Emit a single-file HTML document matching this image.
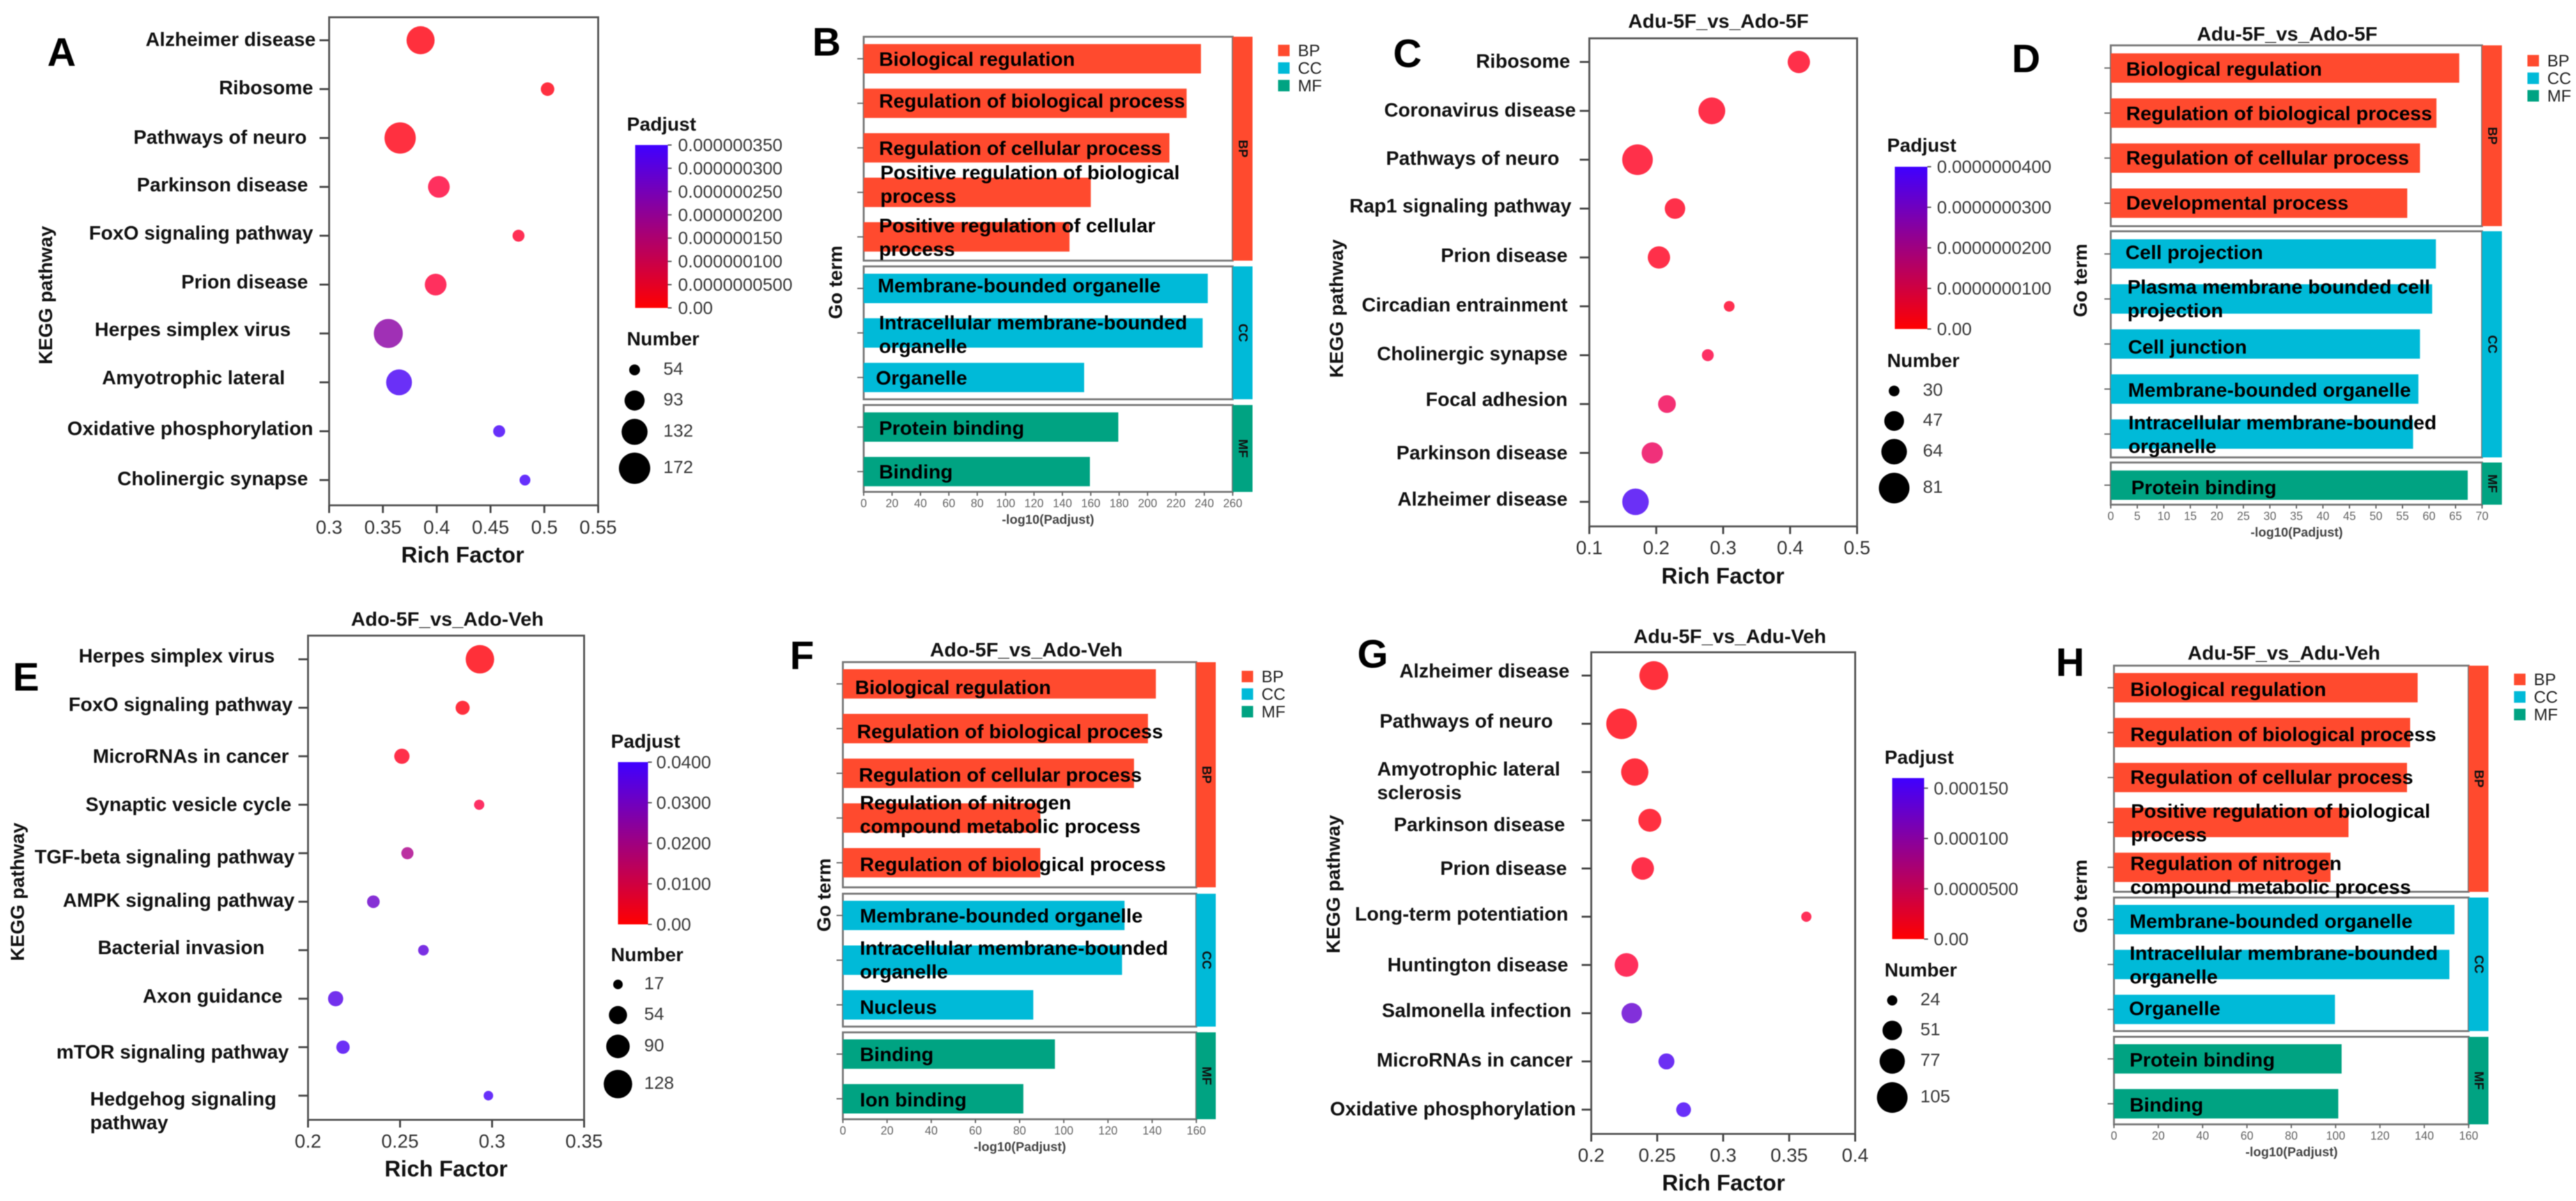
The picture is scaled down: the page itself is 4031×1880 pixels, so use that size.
<!DOCTYPE html>
<html lang="en">
<head>
<meta charset="utf-8">
<title>KEGG and GO enrichment panels</title>
<style>
html,body{margin:0;padding:0;background:#fff;}
#figure{display:block;width:4031px;height:1880px;font-family:"Liberation Sans",Arial,sans-serif;filter:blur(0.9px);}
.letter{font-size:62px;font-weight:700;fill:#000;}
</style>
</head>
<body>
<svg id="figure" xmlns="http://www.w3.org/2000/svg" width="4031" height="1880" viewBox="0 0 4031 1880">
  <defs>
    <linearGradient id="padjGradient" x1="0" y1="1" x2="0" y2="0">
      <stop offset="0" stop-color="#ff0000"/>
      <stop offset="1" stop-color="#3f00ff"/>
    </linearGradient>
  </defs>
  <rect x="0" y="0" width="4031" height="1880" fill="#ffffff"/>
  <text class="letter" x="74" y="103">A</text>
  <text class="letter" x="1271" y="87">B</text>
  <text class="letter" x="2180" y="105">C</text>
  <text class="letter" x="3148" y="113">D</text>
  <text class="letter" x="20" y="1081">E</text>
  <text class="letter" x="1236" y="1047">F</text>
  <text class="letter" x="2124" y="1045">G</text>
  <text class="letter" x="3217" y="1058">H</text>
</svg>
<script>
/* ---------- Panel A data ---------- */
const aCategories = ['Alzheimer disease','Ribosome','Pathways of neuro','Parkinson disease','FoxO signaling pathway','Prion disease','Herpes simplex virus','Amyotrophic lateral','Oxidative phosphorylation','Cholinergic synapse'];
const aRichFactor = [0.385,0.503,0.366,0.402,0.476,0.399,0.355,0.365,0.458,0.482];
const aNumber = [147,61,172,103,56,103,154,131,56,54];
const aPadjust = [1.2e-8,1.5e-8,1.5e-8,5e-8,4e-8,5e-8,2.1e-7,3.35e-7,3.4e-7,3.45e-7];
const aXTicks = [0.3,0.35,0.4,0.45,0.5,0.55];
const aXTickLabels = ['0.3','0.35','0.4','0.45','0.5','0.55'];
const aPadjTicks = [0,5e-8,1e-7,1.5e-7,2e-7,2.5e-7,3e-7,3.5e-7];
const aPadjTickLabels = ['0.00','0.0000000500','0.000000100','0.000000150','0.000000200','0.000000250','0.000000300','0.000000350'];
const aNumberTicks = [54,93,132,172];

/* ---------- Panel C data ---------- */
const cCategories = ['Ribosome','Coronavirus disease','Pathways of neuro','Rap1 signaling pathway','Prion disease','Circadian entrainment','Cholinergic synapse','Focal adhesion','Parkinson disease','Alzheimer disease'];
const cRichFactor = [0.413,0.283,0.172,0.228,0.204,0.309,0.277,0.216,0.194,0.169];
const cNumber = [54,68,81,49,54,30,31,42,51,67];
const cPadjust = [3e-9,3e-9,3e-9,3e-9,3e-9,4e-9,7e-9,1.05e-8,1.2e-8,3.8e-8];
const cXTicks = [0.1,0.2,0.3,0.4,0.5];
const cXTickLabels = ['0.1','0.2','0.3','0.4','0.5'];
const cPadjTicks = [0,1e-8,2e-8,3e-8,4e-8];
const cPadjTickLabels = ['0.00','0.0000000100','0.0000000200','0.0000000300','0.0000000400'];
const cNumberTicks = [30,47,64,81];

/* ---------- Panel E data ---------- */
const eCategories = ['Herpes simplex virus','FoxO signaling pathway','MicroRNAs in cancer','Synaptic vesicle cycle','TGF-beta signaling pathway','AMPK signaling pathway','Bacterial invasion','Axon guidance','mTOR signaling pathway','Hedgehog signaling|pathway'];
const eRichFactor = [0.2934,0.284,0.251,0.293,0.254,0.2355,0.2627,0.215,0.219,0.298];
const eNumber = [128,32,38,18,24,26,19,38,29,17];
const ePadjust = [0.0008,0.0015,0.003,0.007,0.02,0.031,0.034,0.036,0.038,0.039];
const eXTicks = [0.2,0.25,0.3,0.35];
const eXTickLabels = ['0.2','0.25','0.3','0.35'];
const ePadjTicks = [0,0.01,0.02,0.03,0.04];
const ePadjTickLabels = ['0.00','0.0100','0.0200','0.0300','0.0400'];
const eNumberTicks = [17,54,90,128];

/* ---------- Panel G data ---------- */
const gCategories = ['Alzheimer disease','Pathways of neuro','Amyotrophic lateral|sclerosis','Parkinson disease','Prion disease','Long-term potentiation','Huntington disease','Salmonella infection','MicroRNAs in cancer','Oxidative phosphorylation'];
const gRichFactor = [0.2474,0.223,0.233,0.2444,0.239,0.363,0.2267,0.2307,0.257,0.27];
const gNumber = [95,105,87,66,64,24,69,55,38,34];
const gPadjust = [5e-6,5e-6,6e-6,7e-6,1.2e-5,2e-5,2.2e-5,1.28e-4,1.5e-4,1.55e-4];
const gXTicks = [0.2,0.25,0.3,0.35,0.4];
const gXTickLabels = ['0.2','0.25','0.3','0.35','0.4'];
const gPadjTicks = [0,5e-5,1e-4,1.5e-4];
const gPadjTickLabels = ['0.00','0.0000500','0.000100','0.000150'];
const gNumberTicks = [24,51,77,105];

/* ---------- Panel B data ---------- */
const bTerms = ['Biological regulation','Regulation of biological process','Regulation of cellular process','Positive regulation of biological|process','Positive regulation of cellular|process','Membrane-bounded organelle','Intracellular membrane-bounded|organelle','Organelle','Protein binding','Binding'];
const bGroups = ['BP','BP','BP','BP','BP','CC','CC','CC','MF','MF'];
const bValues = [237.6,227.5,215.4,160,145,242.4,238.8,155.3,179.4,159.4];
const bTicks = [0,20,40,60,80,100,120,140,160,180,200,220,240,260];

/* ---------- Panel D data ---------- */
const dTerms = ['Biological regulation','Regulation of biological process','Regulation of cellular process','Developmental process','Cell projection','Plasma membrane bounded cell|projection','Cell junction','Membrane-bounded organelle','Intracellular membrane-bounded|organelle','Protein binding'];
const dGroups = ['BP','BP','BP','BP','CC','CC','CC','CC','CC','MF'];
const dValues = [65.7,61.4,58.3,55.9,61.3,60.6,58.3,58,57,67.3];
const dTicks = [0,5,10,15,20,25,30,35,40,45,50,55,60,65,70];

/* ---------- Panel F data ---------- */
const fTerms = ['Biological regulation','Regulation of biological process','Regulation of cellular process','Regulation of nitrogen|compound metabolic process','Regulation of biological process','Membrane-bounded organelle','Intracellular membrane-bounded|organelle','Nucleus','Binding','Ion binding'];
const fGroups = ['BP','BP','BP','BP','BP','CC','CC','CC','MF','MF'];
const fValues = [141.7,138.1,131.8,89.4,89.4,127.5,126.4,86.2,96,81.7];
const fTicks = [0,20,40,60,80,100,120,140,160];

/* ---------- Panel H data ---------- */
const hTerms = ['Biological regulation','Regulation of biological process','Regulation of cellular process','Positive regulation of biological|process','Regulation of nitrogen|compound metabolic process','Membrane-bounded organelle','Intracellular membrane-bounded|organelle','Organelle','Protein binding','Binding'];
const hGroups = ['BP','BP','BP','BP','BP','CC','CC','CC','MF','MF'];
const hValues = [137,133.6,132.2,105.8,97.7,153.6,151.3,99.7,102.7,101.2];
const hTicks = [0,20,40,60,80,100,120,140,160];

/* ---------- Layout (not data) ---------- */
const groupColors = {BP:'#ff4a2e',CC:'#00bad8',MF:'#00a382'};
const legendKeys = ['BP','CC','MF'];
const svg = document.getElementById('figure');
const SVG_NS = 'http://www.w3.org/2000/svg';

function mk(tag, attrs, parent){
  const node = document.createElementNS(SVG_NS, tag);
  for (const k in attrs) node.setAttribute(k, attrs[k]);
  parent.appendChild(node);
  return node;
}

function putText(parent, str, x, y, size, weight, fill, anchor, rotate){
  const attrs = {x:x, y:y, 'font-size':size, 'font-weight':weight, fill:fill, 'text-anchor':anchor, 'dominant-baseline':'central'};
  if (rotate) attrs.transform = 'rotate(' + rotate + ' ' + x + ' ' + y + ')';
  const node = mk('text', attrs, parent);
  node.textContent = str;
  return node;
}

function slug(str){
  return str.toLowerCase().replace(/\|/g,' ').replace(/[^a-z0-9]+/g,'-').replace(/^-|-$/g,'');
}

/* Colour ramp for the semi-transparent looking dots */
const rampStops = [0,0.15,0.3,0.6,1];
const rampRed = [255,255,240,160,100];
const rampBlue = [51,96,122,181,255];

function padjColor(t){
  let i = 0;
  while (i < rampStops.length - 2 && t > rampStops[i + 1]) i += 1;
  const f = (t - rampStops[i]) / (rampStops[i + 1] - rampStops[i]);
  const r = Math.round(rampRed[i] + (rampRed[i + 1] - rampRed[i]) * f);
  const b = Math.round(rampBlue[i] + (rampBlue[i + 1] - rampBlue[i]) * f);
  return 'rgb(' + r + ',48,' + b + ')';
}

function drawDotPanel(p){
  const L = p.layout;
  const g = mk('g', {}, svg);
  
  

  const xMin = p.xTicks[0];
  const xMax = p.xTicks[p.xTicks.length - 1];
  const xScale = v => L.x0 + (v - xMin) / (xMax - xMin) * (L.x1 - L.x0);
  const yScale = i => L.catFirst + i * L.catStep;
  const nMin = p.numberTicks[0];
  const nMax = p.numberTicks[p.numberTicks.length - 1];
  const rScale = n => {
    const t = Math.max(0, (n - nMin) / (nMax - nMin));
    return L.r0 + (L.r1 - L.r0) * Math.pow(t, 0.72);
  };
  const padjMax = p.padjMax;

  const frame = mk('rect', {x:L.x0, y:L.y0, width:L.x1 - L.x0, height:L.y1 - L.y0, fill:'none', stroke:'#555', 'stroke-width':3}, g);
  
  

  p.xTicks.forEach((v, i) => {
    const tick = mk('line', {x1:xScale(v), x2:xScale(v), y1:L.y1, y2:L.y1 + 12, stroke:'#444', 'stroke-width':3}, g);
    
    
    const label = putText(g, p.xTickLabels[i], xScale(v), L.xTickY, 30, 400, '#333', 'middle');
    
    
  });

  p.categories.forEach((name, i) => {
    const cy = yScale(i);
    const tick = mk('line', {x1:L.x0 - 15, x2:L.x0, y1:cy, y2:cy, stroke:'#444', 'stroke-width':3}, g);
    
    

    const lines = name.split('|');
    const wrapped = lines.length > 1;
    const lx = L.x0 - L.labelGap[i];
    const label = mk('text', {'font-size':30.5, 'font-weight':700, fill:'#111', 'text-anchor':wrapped ? 'start' : 'end', 'dominant-baseline':'central'}, g);
    
    
    lines.forEach((ln, k) => {
      const sp = mk('tspan', {x:lx, y:cy + L.labelDy[i] + (k - (lines.length - 1) / 2) * 37}, label);
      sp.textContent = ln;
    });

    const dot = mk('circle', {cx:xScale(p.rich[i]), cy:cy, r:rScale(p.number[i]), fill:padjColor(Math.min(1, p.padjust[i] / padjMax))}, g);
    
    
  });

  const xTitle = putText(g, 'Rich Factor', L.xTitleX, L.xTitleY, 35, 700, '#111', 'middle');
  
  
  const yTitle = putText(g, 'KEGG pathway', L.yTitleX, L.yTitleY, 30, 700, '#111', 'middle', -90);
  
  
  if (p.title){
    const title = putText(g, p.title, L.titleX, L.titleY, 31, 700, '#111', 'middle');
    
    
  }

  const padjTitle = putText(g, 'Padjust', L.legendX, L.padjTitleY, 30, 700, '#111', 'start');
  
  
  const bar = mk('rect', {x:L.barX0, y:L.barY0, width:L.barX1 - L.barX0, height:L.barY1 - L.barY0, fill:'url(#padjGradient)'}, g);
  
  
  const barScale = v => L.barY1 - v / padjMax * (L.barY1 - L.barY0);
  p.padjTicks.forEach((v, i) => {
    const tick = mk('line', {x1:L.barX1, x2:L.barX1 + 6, y1:barScale(v), y2:barScale(v), stroke:'#555', 'stroke-width':2}, g);
    
    
    const label = putText(g, p.padjTickLabels[i], L.barLabelX, barScale(v), 28, 400, '#3a3a3a', 'start');
    
    
  });

  const numTitle = putText(g, 'Number', L.legendX, L.numTitleY, 30, 700, '#111', 'start');
  
  
  p.numberTicks.forEach((n, i) => {
    const dot = mk('circle', {cx:L.numDotX, cy:L.numY[i], r:rScale(n), fill:'#000'}, g);
    
    
    const label = putText(g, String(n), L.numLabelX, L.numY[i] - 2, 28, 400, '#3a3a3a', 'start');
    
    
  });
}

function drawGoPanel(p){
  const L = p.layout;
  const g = mk('g', {}, svg);
  
  

  const tMin = p.ticks[0];
  const tMax = p.ticks[p.ticks.length - 1];
  const xScale = v => L.x0 + (v - tMin) / (tMax - tMin) * (L.x1 - L.x0);
  const groupOrder = legendKeys.filter(k => p.groups.indexOf(k) >= 0);
  const bottom = L.boxes[groupOrder[groupOrder.length - 1]][1];

  groupOrder.forEach(k => {
    const box = L.boxes[k];
    const frame = mk('rect', {x:L.x0, y:box[0], width:L.x1 - L.x0, height:box[1] - box[0], fill:'#fff', stroke:'#777', 'stroke-width':3}, g);
    
    
    const strip = mk('rect', {x:L.x1, y:box[0], width:L.strip, height:box[1] - box[0], fill:groupColors[k]}, g);
    
    
  });

  const counters = {BP:0, CC:0, MF:0};
  const centers = p.groups.map(k => {
    const c = L.boxes[k][0] + L.barPad + counters[k] * L.barStep;
    counters[k] += 1;
    return c;
  });

  p.terms.forEach((name, i) => {
    const cy = centers[i];
    const tick = mk('line', {x1:L.x0 - 10, x2:L.x0, y1:cy, y2:cy, stroke:'#666', 'stroke-width':2}, g);
    
    
    const rect = mk('rect', {x:L.x0, y:cy - 23, width:xScale(p.values[i]) - L.x0, height:46, fill:groupColors[p.groups[i]]}, g);
    
    
  });

  p.terms.forEach((name, i) => {
    const lines = name.split('|');
    const label = mk('text', {'font-size':31, 'font-weight':700, fill:'#000', 'dominant-baseline':'central'}, g);
    
    
    lines.forEach((ln, k) => {
      const sp = mk('tspan', {x:L.x0 + L.labelGap[i], y:centers[i] + L.labelDy[i] + (k - (lines.length - 1) / 2) * 37}, label);
      sp.textContent = ln;
    });
  });

  groupOrder.forEach(k => {
    const box = L.boxes[k];
    const stripLabel = putText(g, k, L.x1 + L.strip / 2, (box[0] + box[1]) / 2, 20, 700, '#111', 'middle', 90);
    
    
  });

  p.ticks.forEach(v => {
    const tick = mk('line', {x1:xScale(v), x2:xScale(v), y1:bottom, y2:bottom + 6, stroke:'#666', 'stroke-width':2}, g);
    
    
    const label = putText(g, String(v), xScale(v), bottom + 18, 18, 400, '#666', 'middle');
    
    
  });

  const xTitle = putText(g, '-log10(Padjust)', L.xTitleX, bottom + 44, 20, 700, '#444', 'middle');
  
  
  const yTitle = putText(g, 'Go term', L.yTitleX, L.yTitleY, 30, 700, '#111', 'middle', -90);
  
  
  if (p.title){
    const title = putText(g, p.title, L.titleX, L.titleY, 31, 700, '#111', 'middle');
    
    
  }

  legendKeys.forEach((k, i) => {
    const y = L.legendY + i * 27.5;
    const swatch = mk('rect', {x:L.legendX, y:y, width:18, height:18, fill:groupColors[k]}, g);
    
    
    const label = putText(g, k, L.legendX + 31, y + 9, 26, 400, '#222', 'start');
    
    
  });
}

drawDotPanel({key:'a', title:'', categories:aCategories, rich:aRichFactor, number:aNumber, padjust:aPadjust, xTicks:aXTicks, xTickLabels:aXTickLabels, padjTicks:aPadjTicks, padjTickLabels:aPadjTickLabels, padjMax:3.5e-7, numberTicks:aNumberTicks,
  layout:{x0:515,x1:936,y0:27,y1:791,catFirst:63,catStep:76.5,r0:8.5,r1:24.5,xTickY:826,xTitleX:724,xTitleY:869,yTitleX:72,yTitleY:462,legendX:981,padjTitleY:195,barX0:994,barX1:1045,barY0:227,barY1:482,barLabelX:1061,numTitleY:531,numDotX:993,numY:[579,627,676,733],numLabelX:1038,
    labelGap:[21,25,35,33,25,33,60,69,25,33],labelDy:[-1,-2,-1,-3,-4,-4,-6,-7,-4,-2]}});

drawDotPanel({key:'c', title:'Adu-5F_vs_Ado-5F', categories:cCategories, rich:cRichFactor, number:cNumber, padjust:cPadjust, xTicks:cXTicks, xTickLabels:cXTickLabels, padjTicks:cPadjTicks, padjTickLabels:cPadjTickLabels, padjMax:4e-8, numberTicks:cNumberTicks,
  layout:{x0:2487,x1:2906,y0:60,y1:824,catFirst:97,catStep:76.5,r0:8.4,r1:24,titleX:2689,titleY:33,xTickY:858,xTitleX:2696,xTitleY:902,yTitleX:2092,yTitleY:483,legendX:2953,padjTitleY:228,barX0:2965,barX1:3016,barY0:261,barY1:515,barLabelX:3031,numTitleY:565,numDotX:2964,numY:[612,659,707,764],numLabelX:3009,
    labelGap:[30,21,47,28,34,34,34,34,34,34],labelDy:[-1,-1,-2,-4,-3,-2,-2,-7,0,-4]}});

drawDotPanel({key:'e', title:'Ado-5F_vs_Ado-Veh', categories:eCategories, rich:eRichFactor, number:eNumber, padjust:ePadjust, xTicks:eXTicks, xTickLabels:eXTickLabels, padjTicks:ePadjTicks, padjTickLabels:ePadjTickLabels, padjMax:0.04, numberTicks:eNumberTicks,
  layout:{x0:482,x1:914,y0:995,y1:1753,catFirst:1032,catStep:75.9,r0:7.5,r1:22.3,titleX:700,titleY:969,xTickY:1787,xTitleX:698,xTitleY:1830,yTitleX:28,yTitleY:1396,legendX:956,padjTitleY:1161,barX0:967,barX1:1014,barY0:1193,barY1:1447,barLabelX:1027,numTitleY:1495,numDotX:967,numY:[1541,1589,1638,1697],numLabelX:1008,
    labelGap:[52,24,30,26,21,21,68,40,30,341],labelDy:[-5,-5,0,0,6,-2,-4,-4,8,24]}});

drawDotPanel({key:'g', title:'Adu-5F_vs_Adu-Veh', categories:gCategories, rich:gRichFactor, number:gNumber, padjust:gPadjust, xTicks:gXTicks, xTickLabels:gXTickLabels, padjTicks:gPadjTicks, padjTickLabels:gPadjTickLabels, padjMax:1.6e-4, numberTicks:gNumberTicks,
  layout:{x0:2490,x1:2903,y0:1021,y1:1775,catFirst:1057.5,catStep:75.5,r0:8,r1:24,titleX:2707,titleY:996,xTickY:1809,xTitleX:2697,xTitleY:1852,yTitleX:2087,yTitleY:1384,legendX:2949,padjTitleY:1186,barX0:2961,barX1:3011,barY0:1218,barY1:1470,barLabelX:3026,numTitleY:1519,numDotX:2961,numY:[1566,1613,1661,1718],numLabelX:3005,
    labelGap:[34,60,335,41,38,36,36,31,29,24],labelDy:[-7,-4,14,7,0,-4,0,-4,-2,-1]}});

drawGoPanel({key:'b', title:'', terms:bTerms, groups:bGroups, values:bValues, ticks:bTicks,
  layout:{x0:1351.5,x1:1929,strip:31,boxes:{BP:[57.5,408],CC:[417,625],MF:[634,770]},barPad:34.5,barStep:69.7,xTitleX:1640,yTitleX:1308,yTitleY:442,legendX:2000,legendY:70,
    labelGap:[24,24,24,26,24,22,24,19,24,24],labelDy:[0,-4,0,-13,0,-5,2,0,1,0]}});

drawGoPanel({key:'d', title:'Adu-5F_vs_Ado-5F', terms:dTerms, groups:dGroups, values:dValues, ticks:dTicks,
  layout:{x0:3303,x1:3884,strip:31,boxes:{BP:[71,354],CC:[362,716],MF:[724,790]},barPad:35.5,barStep:70.5,titleX:3579,titleY:53,xTitleX:3594,yTitleX:3256,yTitleY:439,legendX:3955,legendY:86,
    labelGap:[24,24,24,24,23,26,27,27,27.5,32],labelDy:[1,0,-1,-1,-3,-1,4,1,0,3]}});

drawGoPanel({key:'f', title:'Ado-5F_vs_Ado-Veh', terms:fTerms, groups:fGroups, values:fValues, ticks:fTicks,
  layout:{x0:1319,x1:1872,strip:30.5,boxes:{BP:[1036.5,1389],CC:[1399,1607],MF:[1616,1752]},barPad:34,barStep:70,titleX:1606,titleY:1017,xTitleX:1596,yTitleX:1290,yTitleY:1401,legendX:1943,legendY:1050,
    labelGap:[19,22,25,26.5,26.5,26.5,26.5,26.5,26.5,26.5],labelDy:[5,4,2,-6,2,0,-1,3,0,1]}});

drawGoPanel({key:'h', title:'Adu-5F_vs_Adu-Veh', terms:hTerms, groups:hGroups, values:hValues, ticks:hTicks,
  layout:{x0:3308,x1:3863,strip:31,boxes:{BP:[1042,1396],CC:[1405,1614],MF:[1623,1760]},barPad:34.5,barStep:70.3,titleX:3574,titleY:1022,xTitleX:3586,yTitleX:3256,yTitleY:1403,legendX:3934,legendY:1054.5,
    labelGap:[25.5,25.5,25.5,26.5,25.5,24.5,24.5,23.5,24.5,24.5],labelDy:[2,2,-1,0,12,2,0,-2,1,1]}});
</script>
</body>
</html>
